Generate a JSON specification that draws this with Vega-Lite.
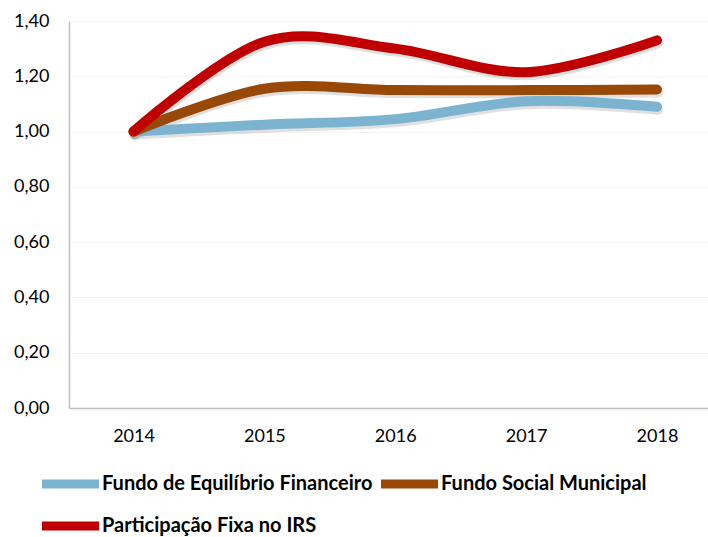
{
  "$schema": "https://vega.github.io/schema/vega-lite/v6.json",
  "width": 639,
  "height": 387,
  "autosize": {"type": "none"},
  "padding": {"left": 69, "top": 21, "right": 0, "bottom": 129},
  "background": "white",
  "config": {
    "view": {"stroke": null},
    "font": "Lato",
    "axis": {"labelFont": "Lato", "labelFontSize": 18, "labelColor": "#000000"}
  },
  "data": {
    "values": [
      {"ano": 2014, "serie": "Fundo de Equilíbrio Financeiro", "valor": 1.00},
      {"ano": 2015, "serie": "Fundo de Equilíbrio Financeiro", "valor": 1.025},
      {"ano": 2016, "serie": "Fundo de Equilíbrio Financeiro", "valor": 1.045},
      {"ano": 2017, "serie": "Fundo de Equilíbrio Financeiro", "valor": 1.11},
      {"ano": 2018, "serie": "Fundo de Equilíbrio Financeiro", "valor": 1.09},
      {"ano": 2014, "serie": "Fundo Social Municipal", "valor": 1.00},
      {"ano": 2015, "serie": "Fundo Social Municipal", "valor": 1.155},
      {"ano": 2016, "serie": "Fundo Social Municipal", "valor": 1.15},
      {"ano": 2017, "serie": "Fundo Social Municipal", "valor": 1.15},
      {"ano": 2018, "serie": "Fundo Social Municipal", "valor": 1.152},
      {"ano": 2014, "serie": "Participação Fixa no IRS", "valor": 1.00},
      {"ano": 2015, "serie": "Participação Fixa no IRS", "valor": 1.325},
      {"ano": 2016, "serie": "Participação Fixa no IRS", "valor": 1.30},
      {"ano": 2017, "serie": "Participação Fixa no IRS", "valor": 1.215},
      {"ano": 2018, "serie": "Participação Fixa no IRS", "valor": 1.33}
    ]
  },
  "encoding": {
    "x": {
      "field": "ano", "type": "quantitative",
      "scale": {"domain": [2013.507, 2018.39], "nice": false, "zero": false},
      "axis": {"title": null, "values": [2014, 2015, 2016, 2017, 2018], "format": "d", "ticks": false, "grid": false, "domainColor": "#bfbfbf", "domainWidth": 1.5, "labelPadding": 19}
    },
    "y": {
      "field": "valor", "type": "quantitative",
      "scale": {"domain": [0, 1.4], "nice": false},
      "axis": {"title": null, "values": [0, 0.2, 0.4, 0.6, 0.8, 1.0, 1.2, 1.4], "labelExpr": "replace(format(datum.value, '.2f'), '.', ',')", "ticks": false, "grid": true, "gridColor": "#f4f4f4", "domainColor": "#bfbfbf", "domainWidth": 1.5, "labelPadding": 20}
    }
  },
  "layer": [
    {
      "mark": {"type": "line", "interpolate": "cardinal", "strokeWidth": 10, "strokeCap": "round", "strokeJoin": "round", "color": "#555555", "opacity": 0.18, "yOffset": 3, "xOffset": 1},
      "encoding": {"detail": {"field": "serie", "type": "nominal"}}
    },
    {
      "mark": {"type": "line", "interpolate": "cardinal", "strokeWidth": 10, "strokeCap": "round", "strokeJoin": "round"},
      "encoding": {
        "color": {
          "field": "serie", "type": "nominal",
          "sort": ["Fundo de Equilíbrio Financeiro", "Fundo Social Municipal", "Participação Fixa no IRS"],
          "scale": {"domain": ["Fundo de Equilíbrio Financeiro", "Fundo Social Municipal", "Participação Fixa no IRS"], "range": ["#7bb3d1", "#984807", "#c00000"]},
          "legend": {
            "title": null, "orient": "none", "legendX": -12.5, "legendY": 449,
            "direction": "horizontal", "columns": 2, "columnPadding": -10, "rowPadding": 6,
            "symbolType": "M-3,0H3", "symbolSize": 361, "symbolStrokeWidth": 9,
            "labelFont": "Lato", "labelFontSize": 20, "labelFontWeight": "bold", "labelColor": "#000000", "labelOffset": 17.5, "labelLimit": 400
          }
        }
      }
    }
  ]
}
